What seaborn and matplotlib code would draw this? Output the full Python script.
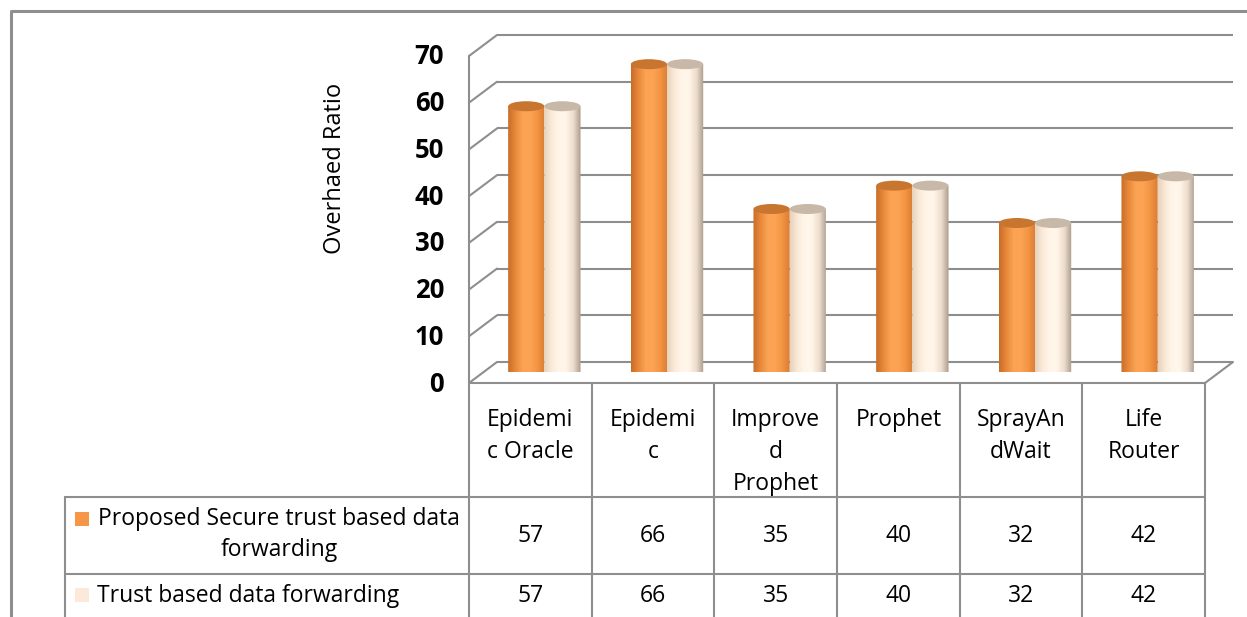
import textwrap
import numpy as np
import pandas as pd
import matplotlib
matplotlib.use("Agg")
import matplotlib.pyplot as plt
from matplotlib.path import Path
from matplotlib.patches import PathPatch, Ellipse, Rectangle
from matplotlib.colors import to_rgb
import seaborn as sns

# ---- data -------------------------------------------------------------
categories = ["Epidemic Oracle", "Epidemic", "Improved Prophet", "Prophet",
              "SprayAndWait", "Life Router"]
header_labels = ["Epidemi\nc Oracle", "Epidemi\nc", "Improve\nd\nProphet",
                 "Prophet", "SprayAn\ndWait", "Life\nRouter"]
series_names = ["Proposed Secure trust based data forwarding",
                "Trust based data forwarding"]
proposed_values = [57, 66, 35, 40, 32, 42]
trust_values = [57, 66, 35, 40, 32, 42]
y_ticks = [0, 10, 20, 30, 40, 50, 60, 70]
y_label = "Overhaed Ratio"

series_colors = ["#f79646", "#fde9d9"]

df = pd.DataFrame({
    "Protocol": categories * 2,
    "Series": [series_names[0]] * len(categories) + [series_names[1]] * len(categories),
    "Overhead": proposed_values + trust_values,
})

# ---- figure setup ------------------------------------------------------
sns.set_theme(style="white")
plt.rcParams["font.family"] = ["Open Sans", "DejaVu Sans"]

W, H = 1247, 617
fig = plt.figure(figsize=(W / 100, H / 100), dpi=100)
fig.patch.set_facecolor("white")

# overlay in image pixel coordinates (y grows downward) for frame & table
fa = fig.add_axes([0, 0, 1, 1], zorder=0)
fa.set_xlim(0, W)
fa.set_ylim(H, 0)
fa.axis("off")

GRID = "#8e8e8e"
LW = 1.5

# plot area at mid depth of the 3D box
col_left, col_right = 469, 1205
col_w = (col_right - col_left) / len(categories)
DX, DY = 14, 10.5          # half-depth offset of the box (pixels)
y_zero, y_top = 372.5, 45.5
ax = fig.add_axes([(col_left + DX) / W, (H - y_zero) / H,
                   (col_right - col_left) / W, (y_zero - y_top) / H], zorder=2)
ax.patch.set_alpha(0)

sns.barplot(data=df, x="Protocol", y="Overhead", hue="Series",
            order=categories, hue_order=series_names, palette=series_colors,
            width=0.59, saturation=1, linewidth=0, legend=False, ax=ax)
ax.set_xlim(-0.5, len(categories) - 0.5)
ax.set_ylim(y_ticks[0], y_ticks[-1])
ax.set_autoscale_on(False)
ax.axis("off")


def img_xy(xd, yd):
    """data point of the bar axes -> image pixel coordinates"""
    dx, dy = ax.transData.transform((xd, yd))
    return dx, H - dy


# ---- 3D box: back wall gridlines, side wall, floor ---------------------
x_first, x_last = -0.5, len(categories) - 0.5
for t in y_ticks:
    lx, ly = img_xy(x_first, t)
    rx, ry = img_xy(x_last, t)
    fa.plot([lx + DX, rx + DX], [ly - DY, ry - DY], color=GRID, lw=LW,
            solid_capstyle="butt")
    fa.plot([lx + DX, lx - DX], [ly - DY, ly + DY], color=GRID, lw=LW)
lx0, ly0 = img_xy(x_first, 0)
lx7, ly7 = img_xy(x_first, y_ticks[-1])
rx0, ry0 = img_xy(x_last, 0)
fa.plot([lx0 - DX, lx7 - DX], [ly0 + DY, ly7 + DY], color=GRID, lw=LW)
fa.plot([lx0 - DX, rx0 - DX], [ly0 + DY, ry0 + DY], color=GRID, lw=LW)
fa.plot([rx0 - DX, rx0 + DX], [ry0 + DY, ry0 - DY], color=GRID, lw=LW)

for t in y_ticks:
    x, y = img_xy(x_first, t)
    fa.text(x - DX - 25, y + DY + 1, str(t), ha="right", va="center",
            fontsize=18.5, fontweight="bold", color="black")

fa.text(335, 168, y_label, rotation=90, ha="center", va="center",
        fontsize=17, color="black")

# ---- cylinders ---------------------------------------------------------
shades = {
    0: (["#c86d28", "#e8883a", "#fba453", "#fba352", "#f39443", "#d97d33"], "#c8752f"),
    1: (["#e6d2bd", "#fbead8", "#fff6ea", "#fff5e8", "#ecdccb", "#a99b8d"], "#c7b8a8"),
}
e = 5 / ((y_zero - y_top) / (y_ticks[-1] - y_ticks[0]))
for p in ax.patches:
    fc = p.get_facecolor()[:3]
    k = int(np.argmin([np.sum((np.array(fc) - np.array(to_rgb(c))) ** 2)
                       for c in series_colors]))
    body, top = shades[k]
    x, w, h = p.get_x(), p.get_width(), p.get_height()
    cx = x + w / 2
    theta = np.linspace(np.pi, 2 * np.pi, 40)
    verts = [(x, h)] + [(cx + w / 2 * np.cos(a), e * np.sin(a)) for a in theta] \
        + [(x + w, h), (x, h)]
    path = Path(verts, [Path.MOVETO] + [Path.LINETO] * (len(verts) - 2) + [Path.CLOSEPOLY])
    clip = PathPatch(path, transform=ax.transData, facecolor="none", edgecolor="none")
    ax.add_patch(clip)
    stops = np.array([to_rgb(c) for c in body])
    u = np.linspace(0, 1, 128)
    pos = np.linspace(0, 1, len(stops))
    grad = np.stack([np.interp(u, pos, stops[:, i]) for i in range(3)], axis=-1)
    im = ax.imshow(grad[None, :, :], extent=(x, x + w, -e, h), aspect="auto",
                   zorder=4, interpolation="bilinear")
    im.set_clip_path(clip)
    p.set_visible(False)
    ax.add_patch(Ellipse((cx, h), w, 2 * e, facecolor=top, edgecolor="none",
                         zorder=5))
ax.set_xlim(-0.5, len(categories) - 0.5)
ax.set_ylim(y_ticks[0], y_ticks[-1])

# ---- data table --------------------------------------------------------
leg_left = 65
row_top, row1, row2, row_bot = 384, 497, 574, 660
for i in range(len(categories) + 1):
    xv = col_left + i * col_w
    fa.plot([xv, xv], [row_top, row_bot], color=GRID, lw=LW)
for yv in (row1, row2):
    fa.plot([leg_left, col_right], [yv, yv], color=GRID, lw=LW)
fa.plot([leg_left, leg_left], [row1, row_bot], color=GRID, lw=LW)

TFS = 16.5
for i, lab in enumerate(header_labels):
    cx = col_left + (i + 0.5) * col_w
    for j, line in enumerate(lab.split("\n")):
        fa.text(cx, 420 + 32 * j, line, ha="center", va="center",
                fontsize=TFS, color="black")
for i, (a, b) in enumerate(zip(proposed_values, trust_values)):
    cx = col_left + (i + 0.5) * col_w
    fa.text(cx, 536, str(a), ha="center", va="center", fontsize=TFS, color="black")
    fa.text(cx, 596, str(b), ha="center", va="center", fontsize=TFS, color="black")

fa.add_patch(Rectangle((75, 512), 14, 14, facecolor=series_colors[0], edgecolor="none"))
fa.add_patch(Rectangle((75, 588), 14, 14, facecolor=series_colors[1], edgecolor="none"))
wrapped = textwrap.fill(series_names[0], 32).split("\n")
fa.text(279, 519, wrapped[0], ha="center", va="center", fontsize=TFS, color="black")
fa.text(279, 550, wrapped[1], ha="center", va="center", fontsize=TFS, color="black")
fa.text(97, 596, series_names[1], ha="left", va="center", fontsize=TFS, color="black")

# outer chart frame
fa.plot([11, 11, W + 5], [H + 5, 11, 11], color=GRID, lw=2.2)

fig.savefig("out.png", dpi=100, facecolor="white")
